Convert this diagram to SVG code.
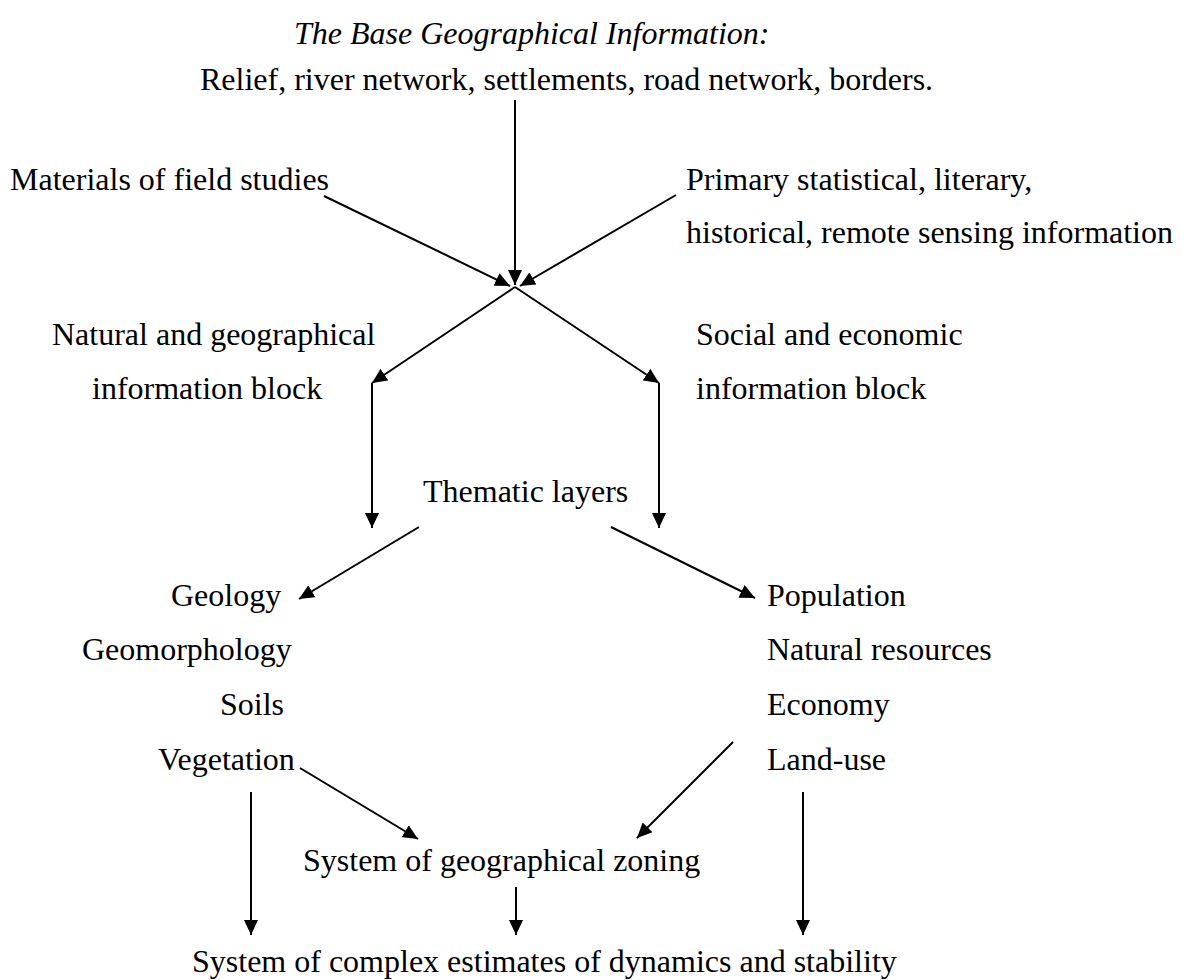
<svg xmlns="http://www.w3.org/2000/svg" width="1190" height="980" viewBox="0 0 1190 980">
<defs>
<style>
text{font-family:"Liberation Serif","Times New Roman",serif;font-size:32px;fill:#000}
.it{font-style:italic}
.ln{stroke:#000;stroke-width:2;fill:none}
</style>
<marker id="ah" viewBox="0 0 15 14" refX="15" refY="7" markerWidth="15" markerHeight="14" markerUnits="userSpaceOnUse" orient="auto">
<path d="M0,0 L15,7 L0,14 Z" fill="#000"/>
</marker>
</defs>
<rect width="1190" height="980" fill="#fff"/>
<g id="title"><text class="it" x="294" y="44">The Base Geographical Information:</text></g>
<g id="base"><text x="200" y="90">Relief, river network, settlements, road network, borders.</text></g>
<g id="field"><text x="10" y="190">Materials of field studies</text></g>
<g id="primary"><text x="686" y="190">Primary statistical, literary,</text><text x="686" y="243">historical, remote sensing information</text></g>
<g id="natural"><text x="52" y="345">Natural and geographical</text><text x="92" y="399">information block</text></g>
<g id="social"><text x="696" y="345">Social and economic</text><text x="696" y="399">information block</text></g>
<g id="thematic"><text x="423" y="502">Thematic layers</text></g>
<g id="natlayers"><text x="171" y="606">Geology</text><text x="82" y="660">Geomorphology</text><text x="220" y="715">Soils</text><text x="158" y="770">Vegetation</text></g>
<g id="soclayers"><text x="767" y="606">Population</text><text x="767" y="660">Natural resources</text><text x="767" y="715">Economy</text><text x="767" y="770">Land-use</text></g>
<g id="zoning"><text x="303" y="871">System of geographical zoning</text></g>
<g id="estimates"><text x="192" y="972">System of complex estimates of dynamics and stability</text></g>
<g id="connectors" class="ln">
<line x1="515" y1="100" x2="515" y2="285" marker-end="url(#ah)"/>
<line x1="324" y1="196" x2="510" y2="286" marker-end="url(#ah)"/>
<line x1="676" y1="195" x2="520" y2="286" marker-end="url(#ah)"/>
<line x1="515" y1="287" x2="372" y2="383" marker-end="url(#ah)"/>
<line x1="515" y1="287" x2="659" y2="383" marker-end="url(#ah)"/>
<line x1="372" y1="383" x2="372" y2="528" marker-end="url(#ah)"/>
<line x1="659" y1="383" x2="659" y2="528" marker-end="url(#ah)"/>
<line x1="419" y1="527" x2="299" y2="599" marker-end="url(#ah)"/>
<line x1="611" y1="527" x2="755" y2="598" marker-end="url(#ah)"/>
<line x1="300" y1="768" x2="418" y2="839" marker-end="url(#ah)"/>
<line x1="733" y1="742" x2="637" y2="838" marker-end="url(#ah)"/>
<line x1="251" y1="792" x2="251" y2="935" marker-end="url(#ah)"/>
<line x1="516" y1="887" x2="516" y2="935" marker-end="url(#ah)"/>
<line x1="803" y1="792" x2="803" y2="935" marker-end="url(#ah)"/>
</g>
</svg>
